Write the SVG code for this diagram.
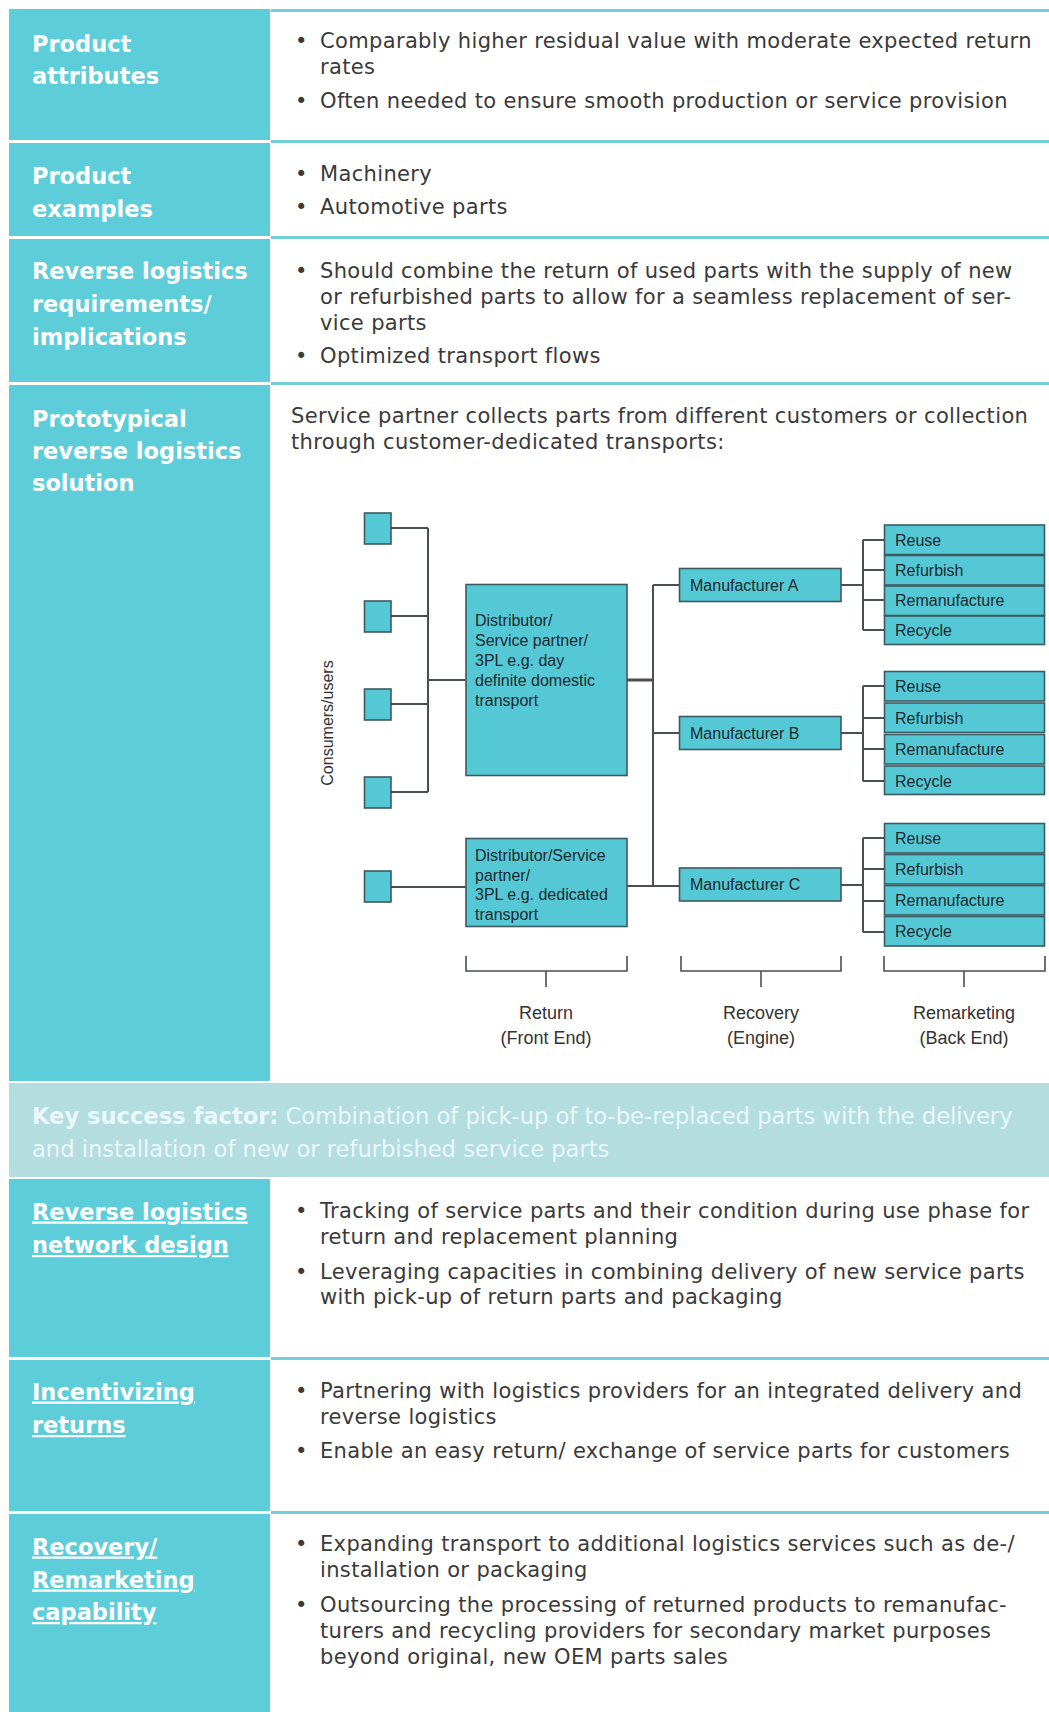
<svg xmlns="http://www.w3.org/2000/svg" width="1049" height="1712" viewBox="0 0 1049 1712">
<style>
.lc{fill:#5ccdd9}
.rl{stroke:#6fd0da;stroke-width:3}
.hd{font-family:"DejaVu Sans","Open Sans",sans-serif;font-weight:bold;font-size:22.5px;fill:#ffffff}
.ul{text-decoration:underline}
.bt{font-family:"DejaVu Sans","Open Sans",sans-serif;font-size:21px;letter-spacing:0.35px;fill:#3a3a3a}
.ks{font-family:"DejaVu Sans","Open Sans",sans-serif;font-size:22.6px;fill:#eaf7f8}
.bx{fill:#55c8d6;stroke:#3d5a60;stroke-width:1.6}
.dt{font-family:"Liberation Sans",Arial,sans-serif;font-size:16px;fill:#1e2a2e}
.ln{stroke:#4a4f52;stroke-width:2;fill:none}
.lb{font-family:"Liberation Sans",Arial,sans-serif;font-size:18px;fill:#333;text-anchor:middle}
</style>
<rect width="1049" height="1712" fill="#ffffff"/>
<g id="table-bg">
<rect class="lc" x="9" y="9" width="261" height="131"/>
<rect class="lc" x="9" y="143" width="261" height="93"/>
<rect class="lc" x="9" y="239" width="261" height="143"/>
<rect class="lc" x="9" y="385" width="261" height="696"/>
<rect x="9" y="1083" width="1040" height="94" fill="#b4dde0"/>
<rect class="lc" x="9" y="1179" width="261" height="178"/>
<rect class="lc" x="9" y="1360" width="261" height="151"/>
<rect class="lc" x="9" y="1514" width="261" height="198"/>
<line class="rl" x1="271" y1="10.5" x2="1049" y2="10.5"/>
<line class="rl" x1="271" y1="141.5" x2="1049" y2="141.5"/>
<line class="rl" x1="271" y1="237.5" x2="1049" y2="237.5"/>
<line class="rl" x1="271" y1="383.5" x2="1049" y2="383.5"/>
<line class="rl" x1="271" y1="1358.5" x2="1049" y2="1358.5"/>
<line class="rl" x1="271" y1="1512.5" x2="1049" y2="1512.5"/>
</g>
<g id="row-product-attributes">
<text class="hd" x="32" y="51.5">Product</text>
<text class="hd" x="32" y="84">attributes</text>
<text class="bt" x="295" y="48">•</text>
<text class="bt" x="320" y="48">Comparably higher residual value with moderate expected return</text>
<text class="bt" x="320" y="74">rates</text>
<text class="bt" x="295" y="108">•</text>
<text class="bt" x="320" y="108">Often needed to ensure smooth production or service provision</text>
</g>
<g id="row-product-examples">
<text class="hd" x="32" y="184">Product</text>
<text class="hd" x="32" y="216.5">examples</text>
<text class="bt" x="295" y="181">•</text>
<text class="bt" x="320" y="181">Machinery</text>
<text class="bt" x="295" y="214">•</text>
<text class="bt" x="320" y="214">Automotive parts</text>
</g>
<g id="row-requirements">
<text class="hd" x="32" y="278.5">Reverse logistics</text>
<text class="hd" x="32" y="312">requirements/</text>
<text class="hd" x="32" y="345">implications</text>
<text class="bt" x="295" y="278">•</text>
<text class="bt" x="320" y="278">Should combine the return of used parts with the supply of new</text>
<text class="bt" x="320" y="304">or refurbished parts to allow for a seamless replacement of ser-</text>
<text class="bt" x="320" y="330">vice parts</text>
<text class="bt" x="295" y="363">•</text>
<text class="bt" x="320" y="363">Optimized transport flows</text>
</g>
<g id="row-prototypical">
<text class="hd" x="32" y="427">Prototypical</text>
<text class="hd" x="32" y="459">reverse logistics</text>
<text class="hd" x="32" y="491">solution</text>
<text class="bt" x="291" y="423">Service partner collects parts from different customers or collection</text>
<text class="bt" x="291" y="449">through customer-dedicated transports:</text>
</g>
<g id="connectors">
<path class="ln" d="M391,528 H428 M391,616 H428 M391,704 H428 M391,792 H428 M428,528 V792 M428,680 H466"/>
<path class="ln" d="M391,887 H466"/>
<path class="ln" d="M627,680 H653" style="stroke-width:3"/>
<path class="ln" d="M627,886 H679 M653,585 V886 M653,585 H679 M653,733 H679"/>
<path class="ln" d="M841,585 H863 M863,540 V630 M863,540 H884 M863,570 H884 M863,600 H884 M863,630 H884"/>
<path class="ln" d="M841,733 H863 M863,686 V781 M863,686 H884 M863,718 H884 M863,749 H884 M863,781 H884"/>
<path class="ln" d="M841,885 H863 M863,838 V932 M863,838 H884 M863,869 H884 M863,901 H884 M863,932 H884"/>
<path class="ln" style="stroke-width:1.6" d="M466,956 V971 H627 V956 M546,971 V987"/>
<path class="ln" style="stroke-width:1.6" d="M681,956 V971 H841 V956 M761,971 V987"/>
<path class="ln" style="stroke-width:1.6" d="M884,956 V971 H1045 V956 M964,971 V987"/>
</g>
<g id="consumers">
<text class="dt" transform="translate(333,723) rotate(-90)" text-anchor="middle" style="fill:#333">Consumers/users</text>
<rect class="bx" x="364.5" y="513" width="26.5" height="31"/>
<rect class="bx" x="364.5" y="601" width="26.5" height="31"/>
<rect class="bx" x="364.5" y="689" width="26.5" height="31"/>
<rect class="bx" x="364.5" y="777" width="26.5" height="31"/>
<rect class="bx" x="364.5" y="871" width="26.5" height="31"/>
</g>
<g id="distributor-1">
<rect class="bx" x="466" y="584.5" width="161" height="191"/>
<text class="dt" x="475" y="625.5">Distributor/</text>
<text class="dt" x="475" y="645.5">Service partner/</text>
<text class="dt" x="475" y="665.5">3PL e.g. day</text>
<text class="dt" x="475" y="685.5">definite domestic</text>
<text class="dt" x="475" y="705.5">transport</text>
</g>
<g id="distributor-2">
<rect class="bx" x="466" y="838.5" width="161" height="88"/>
<text class="dt" x="475" y="861">Distributor/Service</text>
<text class="dt" x="475" y="881">partner/</text>
<text class="dt" x="475" y="900">3PL e.g. dedicated</text>
<text class="dt" x="475" y="920">transport</text>
</g>
<g id="manufacturer-a">
<rect class="bx" x="679.5" y="568.5" width="161.5" height="33"/>
<text class="dt" x="690" y="590.5">Manufacturer A</text>
</g>
<g id="manufacturer-b">
<rect class="bx" x="679.5" y="716.5" width="161.5" height="33"/>
<text class="dt" x="690" y="738.5">Manufacturer B</text>
</g>
<g id="manufacturer-c">
<rect class="bx" x="679.5" y="868" width="161.5" height="33"/>
<text class="dt" x="690" y="890">Manufacturer C</text>
</g>
<g id="options-a">
<rect class="bx" x="884.5" y="525" width="160" height="29.5"/>
<rect class="bx" x="884.5" y="555.5" width="160" height="29.5"/>
<rect class="bx" x="884.5" y="586" width="160" height="29.5"/>
<rect class="bx" x="884.5" y="616" width="160" height="28.5"/>
<text class="dt" x="895" y="545.5">Reuse</text>
<text class="dt" x="895" y="576">Refurbish</text>
<text class="dt" x="895" y="606">Remanufacture</text>
<text class="dt" x="895" y="636">Recycle</text>
</g>
<g id="options-b">
<rect class="bx" x="884.5" y="671.5" width="160" height="29.5"/>
<rect class="bx" x="884.5" y="703" width="160" height="29.5"/>
<rect class="bx" x="884.5" y="734.5" width="160" height="29.5"/>
<rect class="bx" x="884.5" y="766" width="160" height="28.5"/>
<text class="dt" x="895" y="692">Reuse</text>
<text class="dt" x="895" y="723.5">Refurbish</text>
<text class="dt" x="895" y="755">Remanufacture</text>
<text class="dt" x="895" y="786.5">Recycle</text>
</g>
<g id="options-c">
<rect class="bx" x="884.5" y="823.5" width="160" height="29.5"/>
<rect class="bx" x="884.5" y="854.5" width="160" height="29.5"/>
<rect class="bx" x="884.5" y="885.5" width="160" height="29.5"/>
<rect class="bx" x="884.5" y="916.5" width="160" height="29.5"/>
<text class="dt" x="895" y="843.5">Reuse</text>
<text class="dt" x="895" y="874.5">Refurbish</text>
<text class="dt" x="895" y="905.5">Remanufacture</text>
<text class="dt" x="895" y="936.5">Recycle</text>
</g>
<g id="phase-labels">
<text class="lb" x="546" y="1019">Return</text>
<text class="lb" x="546" y="1044">(Front End)</text>
<text class="lb" x="761" y="1019">Recovery</text>
<text class="lb" x="761" y="1044">(Engine)</text>
<text class="lb" x="964" y="1019">Remarketing</text>
<text class="lb" x="964" y="1044">(Back End)</text>
</g>
<g id="key-success-factor">
<text class="ks" x="32" y="1124"><tspan font-weight="bold">Key success factor:</tspan> Combination of pick-up of to-be-replaced parts with the delivery</text>
<text class="ks" x="32" y="1157">and installation of new or refurbished service parts</text>
</g>
<g id="row-network-design">
<text class="hd ul" x="32" y="1219.5">Reverse logistics</text>
<text class="hd ul" x="32" y="1253">network design</text>
<text class="bt" x="295" y="1217.5">•</text>
<text class="bt" x="320" y="1217.5">Tracking of service parts and their condition during use phase for</text>
<text class="bt" x="320" y="1244">return and replacement planning</text>
<text class="bt" x="295" y="1279">•</text>
<text class="bt" x="320" y="1279">Leveraging capacities in combining delivery of new service parts</text>
<text class="bt" x="320" y="1304">with pick-up of return parts and packaging</text>
</g>
<g id="row-incentivizing">
<text class="hd ul" x="32" y="1399.5">Incentivizing </text>
<text class="hd ul" x="32" y="1433">returns</text>
<text class="bt" x="295" y="1398">•</text>
<text class="bt" x="320" y="1398">Partnering with logistics providers for an integrated delivery and</text>
<text class="bt" x="320" y="1424">reverse logistics</text>
<text class="bt" x="295" y="1458">•</text>
<text class="bt" x="320" y="1458">Enable an easy return/ exchange of service parts for customers</text>
</g>
<g id="row-recovery">
<text class="hd ul" x="32" y="1554.5">Recovery/</text>
<text class="hd ul" x="32" y="1587.5">Remarketing </text>
<text class="hd ul" x="32" y="1620">capability</text>
<text class="bt" x="295" y="1550.5">•</text>
<text class="bt" x="320" y="1550.5">Expanding transport to additional logistics services such as de-/</text>
<text class="bt" x="320" y="1577">installation or packaging</text>
<text class="bt" x="295" y="1612">•</text>
<text class="bt" x="320" y="1612">Outsourcing the processing of returned products to remanufac-</text>
<text class="bt" x="320" y="1638">turers and recycling providers for secondary market purposes</text>
<text class="bt" x="320" y="1664">beyond original, new OEM parts sales</text>
</g>
</svg>
